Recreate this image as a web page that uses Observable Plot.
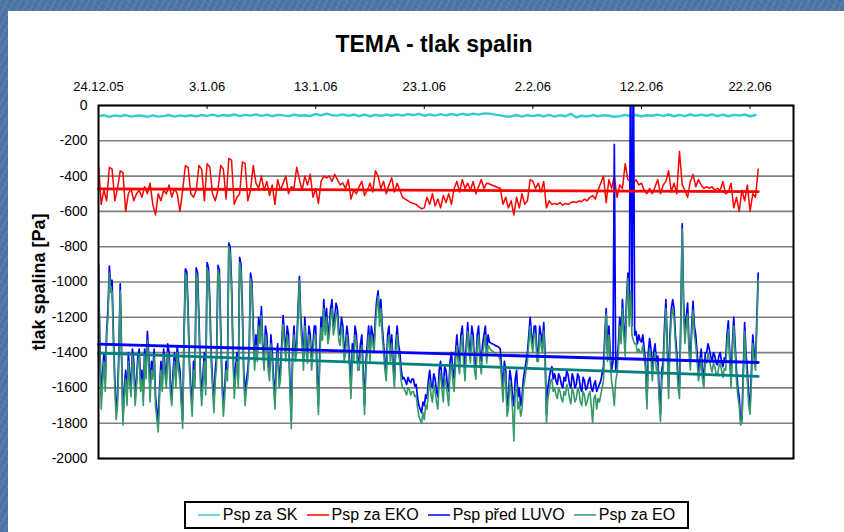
<!DOCTYPE html>
<html><head><meta charset="utf-8">
<script src="https://cdn.jsdelivr.net/npm/d3@7"></script>
<script src="https://cdn.jsdelivr.net/npm/@observablehq/plot@0.6"></script>
<style>
html,body{margin:0;padding:0;}
body{width:844px;height:532px;overflow:hidden;position:relative;background-color:#4e75a5;
 background-image:repeating-linear-gradient(118deg,rgba(255,255,255,0.08) 0 2px,rgba(0,0,0,0) 2px 6px),repeating-linear-gradient(32deg,rgba(0,0,0,0.06) 0 1px,rgba(0,0,0,0) 1px 5px);
 font-family:"Liberation Sans",Arial,sans-serif;}
#panel{position:absolute;left:8px;top:11px;width:836px;height:521px;background:#fff;}
#title{position:absolute;left:0;top:33px;width:868px;text-align:center;font-weight:bold;font-size:23px;line-height:22px;color:#000;}
#chart{position:absolute;left:8px;top:60px;}
#legend{position:absolute;left:184px;top:501px;width:501px;height:24px;border:2px solid #000;display:flex;align-items:center;justify-content:center;gap:9px;font-size:16px;background:#fff;color:#000;}
.item{display:flex;align-items:center;gap:3px;white-space:nowrap;}
.sw{width:22px;height:0;border-top:2px solid;opacity:0.75;}
</style></head><body>
<div id="panel"></div>
<div id="title">TEMA - tlak spalin</div>
<div id="chart"></div>
<div id="legend"></div>
<script>
// ---- data ----
const seriesNames = ["Psp za SK", "Psp za EKO", "Psp před LUVO", "Psp za EO"];
const seriesColors = ["#33cccc", "#ff0000", "#0000ff", "#339966"];
const startDate = "2005-12-24";
const endDate = "2006-02-26";
const tickDates = ["2005-12-24", "2006-01-03", "2006-01-13", "2006-01-23", "2006-02-02", "2006-02-12", "2006-02-22"];
const yTicks = [0, -200, -400, -600, -800, -1000, -1200, -1400, -1600, -1800, -2000];
const stepSK = 0.5;     // days between samples
const stepEKO = 0.25;
const stepFine = 0.125; // LUVO, EO
// null = missing reading (line is joined straight across, as in the original)

const valsSK = [
-62,-55, -64,-56, -61,-54, -63,-57, -58,-64, -56,-63, -60,-54, -63,-56, -61,-55, -62,-54,
-59,-52, -60,-54, -58,-51, -60,-53, -57,-50, -59,-52, -61,-53, -56,-60, -52,-58, -55,-60,
-48,-56, -46,-55, -57,-50, -58,-51, -60,-52, -61,-53, -59,-51, -58,-50, -57,-49, -55,-47,
-58,-50, -57,-49, -56,-48, -55,-47, -54,-46, -52,-45, -46,null, -56,-62, -62,-54, -63,-55,
-60,-54, -62,-53, -63,-55, -61,-47, -68,-57, -63,-54, -62,-55, -58,-64, -60,-53, -61,-54,
-62,-55, -58,-52, -59,-51, -61,-53, -60,-51, -59,-52, -58,-50, -60,-52, -61,-53, -57,-51,
-61,-54];

const valsEKO = [
-340,-560,-480,-540, -350,-360,-540,-470, -370,-380,-600,-500, -470,-540,-500,-480,
-520,-460,-500,-440, -560,-620,-500,-540, -480,-500,-450,-520, -470,-500,-600,-480,
-340,-350,-500,-520, -480,-340,-360,-540, -330,-350,-500,-540, -480,-340,-360,-530,
-300,-310,-560,-520, -500,-320,-330,-540, -480,-340,-440,-470, -400,-480,-430,-510,
-450,-560,-420,-480, -440,-400,-500,-460, -470,-350,-420,-480, -400,-450,-390,-520,
-470,-555,-430,-400, -410,-400,-430,-390, -420,-450,-440,-470, -420,-530,-480,-500,
-460,-430,-510,-480, -440,-490,-370,-400, -470,-430,-500,-450, -410,-490,-440,-480,
-520,-530,-540,-550, -555,-560,-575,-585, -580,-520,-560,-500, -570,-530,-580,-510,
-550,-500,-560,-470, -430,-490,-420,-470, -440,-480,-430,-500, -460,-420,-470,-440,
-445,null,null,null, -470,-560,-520,-580, -540,-620,-520,-580, -500,-560,-540,-420,
-430,-470,-440,-490, -430,-580,-540,-560, -555,-560,-550,-565, -555,-560,-550,-545,
-550,-540,-545,-530, -540,-520,-510,-530, -480,-440,-400,-550, -420,-470,-400,-520,
-450,-470,-330,-420, -430,-440,-420,-450, -440,-480,-500,-470, -500,-460,-420,-500,
-450,-430,-370,-490, -440,-500,-260,-450, -480,-520,-430,-390, -460,-420,-450,-470,
-460,-470,-460,-480, -470,-480,-430,-500, -490,-440,-580,-520, -600,-480,-540,-450,
-600,-500,-520,-360];

const valsLUVO = [
-900,-1350,-1650,-1520,-1400,-1560,-1280,-1150,
-910,-1020,-990,-1300,-1550,-1720,-1650,-1400,
-1010,-1400,-1780,-1600,-1500,-1650,-1400,-1520,
-1600,-1380,-1450,-1650,-1550,-1420,-1380,-1560,
-1500,-1640,-1380,-1500,-1280,-1420,-1600,-1450,
-1500,-1380,-1650,-1720,-1800,-1600,-1450,-1560,
-1380,-1480,-1550,-1350,-1400,-1580,-1650,-1500,
-1400,-1550,-1360,-1450,-1500,-1650,-1780,-1300,
-925,-940,-1150,-1450,-1600,-1700,-1450,-1550,
-920,-950,-1200,-1500,-1650,-1520,-1400,-1580,
-890,-920,-1100,-1400,-1550,-1680,-1500,-1420,
-905,-930,-1250,-1550,-1700,-1600,-1450,-1500,
-780,-800,-1000,-1350,-1600,-1480,-1400,-1550,
-860,-900,-1150,-1500,-1650,-1550,-1500,-1380,
-950,-1000,-1250,-1450,-1300,-1400,-1200,-1300,
-1140,-1350,-1450,-1250,-1300,-1450,-1500,-1300,
-1400,-1550,-1650,-1450,-1350,-1550,-1500,-1350,
-1190,-1300,-1400,-1250,-1300,-1550,-1780,-1400,
-1250,-1400,-1350,-1150,-970,-1200,-1300,-1450,
-1200,-1350,-1400,-1250,-1300,-1450,-1350,-1250,
-1250,-1500,-1700,-1400,-1200,-1280,-1100,-1250,
-1150,-1300,-1250,-1150,-1100,-1250,-1200,-1120,
-1150,-1280,-1300,-1200,-1250,-1400,-1350,-1250,
-1320,-1450,-1600,-1350,-1400,-1250,-1300,-1450,
-1450,-1350,-1300,-1500,-1700,-1450,-1350,-1250,
-1400,-1250,-1300,-1350,-1200,-1100,-1050,-1200,
-1100,-1250,-1350,-1450,-1500,-1300,-1250,-1400,
-1300,-1450,-1550,-1350,-1250,-1350,-1400,-1500,
-1550,-1540,-1560,-1580,-1540,-1560,-1570,-1550,
-1550,-1590,-1580,-1650,-1700,-1720,-1740,-1680,
-1700,-1640,-1660,-1560,-1500,-1580,-1600,-1520,
-1550,-1620,-1650,-1500,-1450,-1550,-1600,-1480,
-1500,-1580,-1620,-1450,-1400,-1500,-1550,-1400,
-1300,-1400,-1450,-1300,-1250,-1400,-1500,-1350,
-1230,-1350,-1400,-1250,-1300,-1450,-1480,-1300,
-1250,-1400,-1450,-1350,-1300,-1250,-1400,-1300,
-1340,-1345,null,null,null,null,null,-1370,
-1380,-1500,-1600,-1450,-1500,-1700,-1650,-1500,
-1550,-1650,-1700,-1550,-1500,-1650,-1600,-1700,
-1650,-1550,-1500,-1450,-1400,-1300,-1200,-1300,
-1350,-1250,-1250,-1400,-1400,-1250,-1300,-1350,
-1230,-1400,-1750,-1600,-1550,-1500,-1480,-1550,
-1520,-1560,-1580,-1520,-1540,-1580,-1600,-1540,
-1560,-1500,-1530,-1580,-1600,-1520,-1550,-1600,
-1580,-1520,-1540,-1600,-1620,-1540,-1560,-1610,
-1600,-1560,-1540,-1600,-1620,-1580,-1560,-1620,
-1600,-1580,-1560,-1520,-1480,-1300,-1150,-1400,
-1250,-1400,-1500,-1450,-220,-1500,-1450,-1350,
-1200,-1300,-1100,-1250,-1350,-1100,-950,-1200,
400,-1250,400,-1300,-1280,-1350,-1300,-1330,
-1340,-1300,-1380,-1450,-1680,-1400,-1320,-1380,
-1500,-1400,-1350,-1450,-1420,-1600,-1750,-1500,
-1450,-1250,-1100,-1350,-1600,-1300,-1150,-1100,
-1150,-1300,-1400,-1550,-1600,-1200,-670,-1100,
-1300,-1200,-1120,-1350,-1450,-1250,-1110,-1250,
-1300,-1400,-1500,-1450,-1380,-1500,-1550,-1400,
-1400,-1350,-1380,-1420,-1450,-1400,-1420,-1460,
-1470,-1420,-1400,-1450,-1480,-1430,-1450,-1300,
-1220,-1400,-1550,-1350,-1200,-1350,-1500,-1600,
-1650,-1780,-1780,-1500,-1230,-1400,-1500,-1650,
-1700,-1500,-1300,-1400,-1450,-1200,-950];

const valsEO = [
-930,-1400,-1720,-1580,-1450,-1620,-1300,-1200,
-950,-1060,-1050,-1350,-1600,-1780,-1700,-1450,
-1050,-1450,-1810,-1650,-1550,-1700,-1450,-1580,
-1650,-1420,-1500,-1700,-1600,-1460,-1420,-1620,
-1550,-1700,-1420,-1550,-1330,-1470,-1680,-1500,
-1550,-1430,-1700,-1780,-1850,-1650,-1500,-1620,
-1420,-1530,-1600,-1400,-1450,-1640,-1700,-1550,
-1450,-1600,-1400,-1500,-1560,-1700,-1830,-1350,
-950,-980,-1200,-1500,-1650,-1760,-1500,-1600,
-950,-990,-1250,-1560,-1700,-1580,-1450,-1640,
-920,-960,-1150,-1460,-1600,-1740,-1560,-1480,
-930,-970,-1300,-1600,-1760,-1650,-1500,-1560,
-800,-840,-1050,-1400,-1660,-1540,-1450,-1600,
-890,-940,-1200,-1560,-1700,-1600,-1550,-1430,
-980,-1040,-1300,-1500,-1360,-1450,-1250,-1350,
-1190,-1400,-1500,-1300,-1360,-1500,-1560,-1350,
-1450,-1600,-1720,-1500,-1400,-1600,-1560,-1400,
-1240,-1350,-1450,-1300,-1360,-1600,-1830,-1450,
-1300,-1450,-1400,-1200,-990,-1250,-1360,-1500,
-1250,-1400,-1460,-1300,-1350,-1500,-1400,-1300,
-1300,-1560,-1750,-1450,-1260,-1330,-1150,-1300,
-1200,-1350,-1300,-1200,-1150,-1300,-1260,-1170,
-1200,-1330,-1360,-1250,-1300,-1450,-1400,-1300,
-1380,-1500,-1660,-1400,-1450,-1300,-1350,-1500,
-1500,-1400,-1360,-1560,-1750,-1500,-1400,-1300,
-1450,-1300,-1350,-1400,-1250,-1150,-1080,-1250,
-1150,-1300,-1400,-1500,-1560,-1350,-1300,-1450,
-1350,-1500,-1600,-1400,-1300,-1400,-1460,-1560,
-1600,-1600,-1620,-1640,-1600,-1610,-1640,-1620,
-1620,-1650,-1640,-1710,-1760,-1780,-1800,-1740,
-1780,-1700,-1720,-1620,-1560,-1640,-1680,-1580,
-1620,-1680,-1720,-1560,-1520,-1610,-1680,-1540,
-1580,-1640,-1700,-1500,-1460,-1560,-1620,-1460,
-1360,-1460,-1520,-1360,-1300,-1460,-1560,-1400,
-1280,-1400,-1460,-1300,-1360,-1500,-1550,-1360,
-1300,-1460,-1520,-1400,-1360,-1300,-1460,-1360,
-1370,-1385,null,null,null,null,null,-1420,
-1450,-1560,-1680,-1500,-1560,-1760,-1720,-1560,
-1620,-1720,-1900,-1620,-1580,-1720,-1680,-1760,
-1720,-1600,-1560,-1500,-1450,-1350,-1250,-1350,
-1400,-1290,-1300,-1450,-1450,-1300,-1360,-1400,
-1280,-1450,-1800,-1660,-1620,-1560,-1550,-1620,
-1600,-1640,-1660,-1600,-1620,-1660,-1680,-1620,
-1640,-1580,-1610,-1660,-1690,-1600,-1630,-1680,
-1660,-1600,-1620,-1680,-1700,-1620,-1640,-1700,
-1680,-1640,-1620,-1700,-1800,-1660,-1640,-1720,
-1660,-1680,-1640,-1600,-1560,-1350,-1180,-1450,
-1300,-1450,-1560,-1620,-1700,-1560,-1520,-1400,
-1250,-1350,-1150,-1300,-1420,-1150,-980,-1250,
-1050,-1300,-1330,-1350,-1350,-1400,-1380,-1400,
-1400,-1360,-1430,-1500,-1720,-1460,-1380,-1440,
-1560,-1450,-1400,-1500,-1480,-1660,-1790,-1560,
-1500,-1300,-1150,-1400,-1660,-1350,-1200,-1150,
-1200,-1350,-1460,-1600,-1660,-1250,-700,-1150,
-1350,-1250,-1180,-1400,-1500,-1300,-1160,-1300,
-1360,-1450,-1560,-1500,-1430,-1560,-1600,-1450,
-1460,-1400,-1440,-1480,-1510,-1460,-1480,-1520,
-1530,-1480,-1460,-1500,-1540,-1490,-1500,-1350,
-1270,-1450,-1600,-1400,-1250,-1400,-1560,-1650,
-1700,-1810,-1800,-1560,-1280,-1450,-1560,-1700,
-1750,-1560,-1350,-1450,-1500,-1250,-990];

// linear trend lines (start / end of data)
const trendDays = [0, 60.75];
const trendEKO = [-472, -488];
const trendLUVO = [-1352, -1456];
const trendEO = [-1403, -1535];
const trendColors = ["#ff0000", "#0000ff", "#008080"];

// ---- build ----
const DAY = 864e5;
const t0 = new Date(startDate).getTime();
const toRows = (vals, step) => vals.map((v, i) => ({date: new Date(t0 + i * step * DAY), v})).filter(d => d.v !== null);
const trendRows = (vals) => trendDays.map((d, i) => ({date: new Date(t0 + d * DAY), v: vals[i]}));
const fmt = d3.utcFormat("%-d.%-m.%y");
const ticks = tickDates.map(s => new Date(s));

const chart = Plot.plot({
  width: 836,
  height: 420,
  marginLeft: 90,
  marginRight: 51,
  marginTop: 45,
  marginBottom: 22,
  style: {fontFamily: "'Liberation Sans', Arial, sans-serif", color: "#000", background: "transparent", overflow: "visible"},
  x: {type: "utc", domain: [new Date(startDate), new Date(endDate)]},
  y: {domain: [-2000, 0]},
  marks: [
    Plot.ruleY(yTicks, {stroke: "#7f7f7f", strokeWidth: 1.6}),
    Plot.axisY(yTicks, {tickSize: 0, tickPadding: 11, tickFormat: d => String(d), fontSize: 14, label: null}),
    Plot.axisX(ticks, {anchor: "top", tickSize: 0, tickPadding: 15, tickFormat: fmt, fontSize: 13, label: null}),
    Plot.ruleX(ticks, {x: d => d, y1: 0, y2: -22, stroke: "#000", strokeWidth: 1}),
    Plot.line(toRows(valsSK, stepSK), {x: "date", y: "v", stroke: seriesColors[0], strokeWidth: 2.4, clip: true}),
    Plot.line(toRows(valsEKO, stepEKO), {x: "date", y: "v", stroke: seriesColors[1], strokeWidth: 1.5, clip: true}),
    Plot.line(toRows(valsLUVO, stepFine), {x: "date", y: "v", stroke: seriesColors[2], strokeWidth: 1.7, clip: true}),
    Plot.line(toRows(valsEO, stepFine), {x: "date", y: "v", stroke: seriesColors[3], strokeWidth: 1.6, clip: true}),
    Plot.line(trendRows(trendEKO), {x: "date", y: "v", stroke: trendColors[0], strokeWidth: 2.8}),
    Plot.line(trendRows(trendLUVO), {x: "date", y: "v", stroke: trendColors[1], strokeWidth: 2.8}),
    Plot.line(trendRows(trendEO), {x: "date", y: "v", stroke: trendColors[2], strokeWidth: 2.8}),
    Plot.frame({stroke: "#000", strokeWidth: 2}),
    Plot.text(["tlak spalina [Pa]"], {text: d => d, frameAnchor: "left", textAnchor: "middle", dx: -59, rotate: -90, fontSize: 18, fontWeight: "bold"})
  ]
});
document.getElementById("chart").appendChild(chart);

const legend = document.getElementById("legend");
seriesNames.forEach((name, i) => {
  const item = document.createElement("div");
  item.className = "item";
  const sw = document.createElement("span");
  sw.className = "sw";
  sw.style.borderTopColor = seriesColors[i];
  const lab = document.createElement("span");
  lab.textContent = name;
  item.appendChild(sw);
  item.appendChild(lab);
  legend.appendChild(item);
});
</script></body></html>
